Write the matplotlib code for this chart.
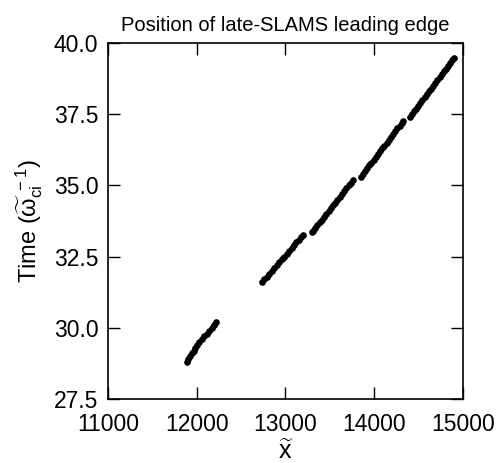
import matplotlib
matplotlib.use("Agg")
import matplotlib.pyplot as plt

plt.rcParams["font.family"] = ["Liberation Sans", "DejaVu Sans"]
plt.rcParams["mathtext.fontset"] = "custom"
plt.rcParams["mathtext.rm"] = "Liberation Sans"
plt.rcParams["mathtext.it"] = "Liberation Sans"
plt.rcParams["mathtext.bf"] = "Liberation Sans:bold"

# leading edge position (x) against time, in five tracked pieces
t1 = [28.8, 28.9, 29.0, 29.1, 29.2, 29.3, 29.4, 29.5, 29.6, 29.7, 29.8, 29.9, 30.0, 30.1, 30.2]
x1 = [11887, 11906, 11925, 11944, 11964, 11984, 12004, 12026, 12055, 12084, 12112, 12140, 12168, 12195, 12222]

t2 = [31.6, 31.7, 31.8, 31.9, 32.0, 32.1, 32.2, 32.3, 32.4, 32.5, 32.6, 32.7, 32.8, 32.9, 33.0, 33.1, 33.2, 33.25]
x2 = [12735, 12763, 12790, 12818, 12846, 12873, 12901, 12929, 12957, 12984, 13012, 13040, 13068, 13096, 13124, 13151, 13179, 13197]

t3 = [33.35, 33.4, 33.5, 33.6, 33.7, 33.8, 33.9, 34.0, 34.1, 34.2, 34.3, 34.4, 34.5, 34.6, 34.7, 34.8, 34.9, 35.0, 35.1, 35.2]
x3 = [13297, 13310, 13335, 13360, 13385, 13410, 13435, 13460, 13485, 13510, 13536, 13561, 13586, 13611, 13637, 13662, 13687, 13712, 13737, 13762]

t4 = [35.3, 35.4, 35.5, 35.6, 35.7, 35.8, 35.9, 36.0, 36.1, 36.2, 36.3, 36.4, 36.5, 36.6, 36.7, 36.8, 36.9, 37.0, 37.1, 37.2, 37.25]
x4 = [13846, 13870, 13895, 13919, 13944, 13968, 13993, 14017, 14042, 14066, 14091, 14115, 14140, 14164, 14189, 14213, 14238, 14262, 14287, 14311, 14325]

t5 = [37.4, 37.5, 37.6, 37.7, 37.8, 37.9, 38.0, 38.1, 38.2, 38.3, 38.4, 38.5, 38.6, 38.7, 38.8, 38.9, 39.0, 39.1, 39.2, 39.3, 39.4, 39.46]
x5 = [14398, 14422, 14446, 14470, 14494, 14518, 14543, 14567, 14591, 14615, 14639, 14663, 14688, 14712, 14736, 14760, 14784, 14808, 14833, 14857, 14881, 14897]

xticks = [11000, 12000, 13000, 14000, 15000]
yticks = [27.5, 30.0, 32.5, 35.0, 37.5, 40.0]

fig = plt.figure(figsize=(5.01, 4.63), dpi=100)
ax = fig.add_axes([0.2156, 0.1382, 0.7084, 0.7689])

for tt, xx in ((t1, x1), (t2, x2), (t3, x3), (t4, x4), (t5, x5)):
    ax.plot(xx, tt, "o", color="black", markersize=4.8, markeredgewidth=0)

ax.set_xlim(11000, 15000)
ax.set_ylim(27.5, 40.0)
ax.set_xticks(xticks)
ax.set_yticks(yticks)
ax.set_xticklabels([str(v) for v in xticks])
ax.set_yticklabels([f"{v:.1f}" for v in yticks])
ax.tick_params(direction="in", length=8.5, width=1, top=True, right=True,
               labelsize=16.5)
ax.tick_params(axis="x", pad=10)
ax.tick_params(axis="y", pad=7)
for s in ax.spines.values():
    s.set_linewidth(1.2)

ax.set_title("Position of late-SLAMS leading edge", fontsize=14.5, pad=9)
ax.set_xlabel(r"$\widetilde{\mathrm{x}}$", fontsize=18, labelpad=3)
ax.set_ylabel(r"Time ($\widetilde{\omega}_{\mathrm{ci}}^{\ -1}$)", fontsize=17, labelpad=6)

fig.savefig("out.png", dpi=100, facecolor="white")
